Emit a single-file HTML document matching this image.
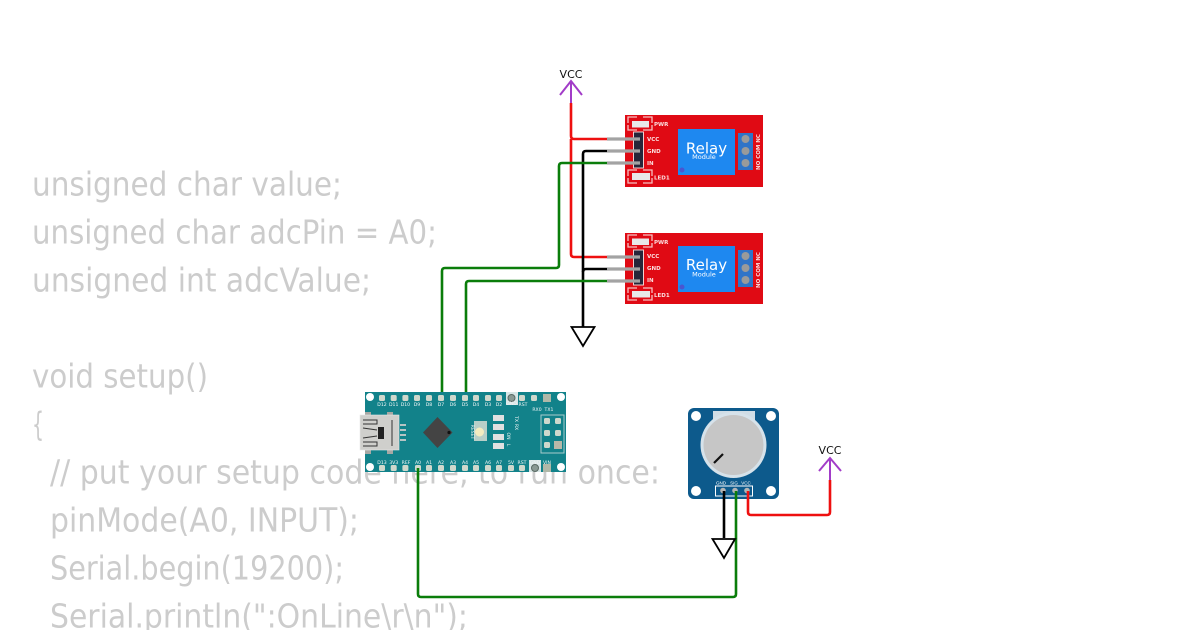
<!DOCTYPE html>
<html><head><meta charset="utf-8"><style>
html,body{margin:0;padding:0;background:#fff;width:1200px;height:630px;overflow:hidden}
svg{display:block}
.c{font-family:"DejaVu Sans","Liberation Sans",sans-serif;font-size:33px;fill:#cccccc}
.v{font-family:"DejaVu Sans","Liberation Sans",sans-serif;font-size:11px;fill:#111;text-anchor:middle}
.r{font-family:"DejaVu Sans","Liberation Sans",sans-serif;font-size:5.5px;font-weight:bold;fill:#fbdede}
.n{font-family:"DejaVu Sans","Liberation Sans",sans-serif;font-size:4.6px;fill:#f2f7f7;text-anchor:middle}
.w{fill:none;stroke-width:2.6;stroke-linejoin:round}
.b{fill:none;stroke:#f6c0c0;stroke-width:1.3}
</style></head><body>
<svg width="1200" height="630" viewBox="0 0 1200 630" xmlns="http://www.w3.org/2000/svg">
<defs>
<rect id="p" x="-3" y="-3" width="6" height="6" rx="1.500" fill="#cfd8cc"/>
</defs>

<!-- code text -->
<text class="c" x="32" y="195.500" textLength="310" lengthAdjust="spacingAndGlyphs">unsigned char value;</text>
<text class="c" x="32" y="243.500" textLength="405" lengthAdjust="spacingAndGlyphs">unsigned char adcPin = A0;</text>
<text class="c" x="32" y="291.500" textLength="339" lengthAdjust="spacingAndGlyphs">unsigned int adcValue;</text>
<text class="c" x="32" y="387.500" textLength="176" lengthAdjust="spacingAndGlyphs">void setup()</text>
<text class="c" x="32" y="435.500" textLength="12" lengthAdjust="spacingAndGlyphs">{</text>
<text class="c" x="50" y="483.500" textLength="610" lengthAdjust="spacingAndGlyphs">// put your setup code here, to run once:</text>
<text class="c" x="50" y="531.500" textLength="309" lengthAdjust="spacingAndGlyphs">pinMode(A0, INPUT);</text>
<text class="c" x="50" y="579.500" textLength="294" lengthAdjust="spacingAndGlyphs">Serial.begin(19200);</text>
<text class="c" x="50" y="627.500" textLength="418" lengthAdjust="spacingAndGlyphs">Serial.println(":OnLine\r\n");</text>

<!-- relay 1 -->
<g transform="translate(625 115)">
<rect x="0" y="0" width="138" height="72" fill="#e00a14"/>
<path class="b" d="M3 8V2H12M18 2H27V8M3 10V15H12M18 15H27V10"/>
<rect x="7" y="6" width="17" height="6.500" fill="#e8e8e8"/>
<text class="r" x="29" y="11">PWR</text>
<path class="b" d="M3 61V55H12M18 55H27V61M3 63V68H12M18 68H27V63"/>
<rect x="7" y="58" width="18" height="7" fill="#e8e8e8"/>
<text class="r" x="29" y="64.500">LED1</text>
<rect x="8.500" y="17" width="10" height="36" fill="#26263a" stroke="#f2d0d0" stroke-width="1"/>
<text class="r" x="22" y="26">VCC</text>
<text class="r" x="22" y="38">GND</text>
<text class="r" x="22" y="50">IN</text>
<rect x="53" y="14" width="57" height="46" fill="#1e88f0"/>
<circle cx="57" cy="55" r="2.500" fill="#4a55d0"/>
<text x="81.500" y="38.500" text-anchor="middle" font-family="'DejaVu Sans','Liberation Sans',sans-serif" font-size="15" fill="#fff">Relay</text>
<text x="79" y="44" text-anchor="middle" font-family="'DejaVu Sans','Liberation Sans',sans-serif" font-size="6.500" fill="#fff">Module</text>
<rect x="113" y="18" width="15" height="37" fill="#2f74c8"/>
<circle cx="120.500" cy="24" r="4" fill="#9a9a9a"/>
<circle cx="120.500" cy="36" r="4" fill="#9a9a9a"/>
<circle cx="120.500" cy="48" r="4" fill="#9a9a9a"/>
<text class="r" transform="translate(135 55) rotate(-90)">NO COM NC</text>
</g>

<!-- relay 2 -->
<g transform="translate(625 233)">
<rect x="0" y="0" width="138" height="71" fill="#e00a14"/>
<path class="b" d="M3 8V2H12M18 2H27V8M3 10V14H12M18 14H27V10"/>
<rect x="7" y="5.500" width="17" height="6.500" fill="#e8e8e8"/>
<text class="r" x="29" y="11">PWR</text>
<path class="b" d="M3 60V55H12M18 55H27V60M3 62V67H12M18 67H27V62"/>
<rect x="7" y="58" width="18" height="6.500" fill="#e8e8e8"/>
<text class="r" x="29" y="64">LED1</text>
<rect x="8.500" y="17" width="10" height="35" fill="#26263a" stroke="#f2d0d0" stroke-width="1"/>
<text class="r" x="22" y="25">VCC</text>
<text class="r" x="22" y="37">GND</text>
<text class="r" x="22" y="49">IN</text>
<rect x="53" y="13" width="57" height="46" fill="#1e88f0"/>
<circle cx="57" cy="54" r="2.500" fill="#4a55d0"/>
<text x="81.500" y="37" text-anchor="middle" font-family="'DejaVu Sans','Liberation Sans',sans-serif" font-size="15" fill="#fff">Relay</text>
<text x="79" y="43.500" text-anchor="middle" font-family="'DejaVu Sans','Liberation Sans',sans-serif" font-size="6.500" fill="#fff">Module</text>
<rect x="113" y="17" width="15" height="37" fill="#2f74c8"/>
<circle cx="120.500" cy="23" r="4" fill="#9a9a9a"/>
<circle cx="120.500" cy="35" r="4" fill="#9a9a9a"/>
<circle cx="120.500" cy="47" r="4" fill="#9a9a9a"/>
<text class="r" transform="translate(135 55) rotate(-90)">NO COM NC</text>
</g>

<!-- nano -->
<rect x="365" y="392" width="201" height="80" fill="#12828a"/>
<g fill="#fff"><circle cx="370" cy="397" r="4"/><circle cx="561" cy="397" r="4"/><circle cx="370" cy="467" r="4"/><circle cx="561" cy="467" r="4"/></g>
<use href="#p" x="382" y="398"/><use href="#p" x="393.700" y="398"/><use href="#p" x="405.400" y="398"/><use href="#p" x="417" y="398"/><use href="#p" x="429" y="398"/><use href="#p" x="441" y="398"/><use href="#p" x="453" y="398"/><use href="#p" x="465" y="398"/><use href="#p" x="476" y="398"/><use href="#p" x="488" y="398"/><use href="#p" x="499" y="398"/><use href="#p" x="522" y="398"/><use href="#p" x="534" y="398"/>
<use href="#p" x="382" y="468"/><use href="#p" x="393.700" y="468"/><use href="#p" x="405.400" y="468"/><use href="#p" x="418" y="468"/><use href="#p" x="429" y="468"/><use href="#p" x="441" y="468"/><use href="#p" x="453" y="468"/><use href="#p" x="465" y="468"/><use href="#p" x="476" y="468"/><use href="#p" x="488" y="468"/><use href="#p" x="499" y="468"/><use href="#p" x="511" y="468"/><use href="#p" x="522" y="468"/>
<rect x="506" y="392" width="12" height="13" fill="#d8e6e6"/><circle cx="511.500" cy="398" r="3.500" fill="#8a9a94" stroke="#5a6a64"/>
<rect x="529" y="460" width="12" height="12" fill="#d8e6e6"/><circle cx="535" cy="468" r="3.500" fill="#8a9a94" stroke="#5a6a64"/>
<rect x="543" y="394" width="8" height="8" fill="#b0b8a8"/><rect x="543" y="464" width="8" height="8" fill="#b0b8a8"/>
<text class="n" x="382" y="406">D12</text><text class="n" x="393.700" y="406">D11</text><text class="n" x="405.400" y="406">D10</text><text class="n" x="417" y="406">D9</text><text class="n" x="429" y="406">D8</text><text class="n" x="441" y="406">D7</text><text class="n" x="453" y="406">D6</text><text class="n" x="465" y="406">D5</text><text class="n" x="476" y="406">D4</text><text class="n" x="488" y="406">D3</text><text class="n" x="499" y="406">D2</text><text class="n" x="511.500" y="405" fill="#333">GND</text><text class="n" x="523" y="406">RST</text><text class="n" x="537" y="411">RX0</text><text class="n" x="549" y="411">TX1</text>
<text class="n" x="382" y="464">D13</text><text class="n" x="393.700" y="464">3V3</text><text class="n" x="406" y="464">REF</text><text class="n" x="418" y="464">A0</text><text class="n" x="429" y="464">A1</text><text class="n" x="441" y="464">A2</text><text class="n" x="453" y="464">A3</text><text class="n" x="465" y="464">A4</text><text class="n" x="476" y="464">A5</text><text class="n" x="488" y="464">A6</text><text class="n" x="499" y="464">A7</text><text class="n" x="511" y="464">5V</text><text class="n" x="522" y="464">RST</text><text class="n" x="535" y="464">GND</text><text class="n" x="547" y="464">VIN</text>
<!-- USB -->
<rect x="365" y="412" width="6" height="4" fill="#a8a8a4"/><rect x="387" y="412" width="6" height="4" fill="#a8a8a4"/>
<rect x="365" y="450" width="6" height="4" fill="#a8a8a4"/><rect x="387" y="450" width="6" height="4" fill="#a8a8a4"/>
<rect x="360" y="415" width="39" height="35" fill="#cfcfcc" stroke="#e8e8e8" stroke-width=".6"/>
<path d="M363 420h14v4h-12M363 424h14M363 428l14 2M363 446h14v-4h-12M363 442h14M363 438l14-2M392 420v26" fill="none" stroke="#333" stroke-width="1"/>
<rect x="378" y="427" width="6" height="12" fill="#222"/>
<rect x="400" y="424" width="6" height="2" fill="#b6c4c4"/><rect x="400" y="429" width="6" height="2" fill="#b6c4c4"/><rect x="400" y="434" width="6" height="2" fill="#b6c4c4"/><rect x="400" y="439" width="6" height="2" fill="#b6c4c4"/>
<!-- chip -->
<polygon points="437.500,417 452.500,432.500 437.500,448 423,432.500" fill="#444"/>
<circle cx="449" cy="432.500" r="1.600" fill="#111"/>
<!-- reset -->
<rect x="474" y="421" width="13" height="20" fill="#b8cfc8"/>
<circle cx="479.500" cy="432" r="4.500" fill="#f4ecc0"/>
<text class="n" transform="translate(471 432) rotate(90)">RESET</text>
<!-- leds -->
<g fill="#e0e0e0"><rect x="493" y="415" width="11" height="6"/><rect x="493" y="424" width="11" height="6"/><rect x="493" y="434" width="11" height="6"/><rect x="493" y="443" width="11" height="6"/></g>
<text class="n" transform="translate(515 419) rotate(90)">TX</text><text class="n" transform="translate(515 427) rotate(90)">RX</text><text class="n" transform="translate(507 436) rotate(90)">ON</text><text class="n" transform="translate(507 445) rotate(90)">L</text>
<!-- icsp -->
<rect x="541" y="415" width="23" height="38" fill="none" stroke="#a8cccc"/>
<use href="#p" x="547" y="421"/><use href="#p" x="558" y="421"/><use href="#p" x="547" y="433"/><use href="#p" x="558" y="433"/><use href="#p" x="547" y="445"/><rect x="554" y="441" width="8" height="8" fill="#b8b8a8"/>

<!-- potentiometer -->
<rect x="688" y="408" width="91" height="91" rx="6" fill="#0d5a8c"/>
<g fill="#fff"><circle cx="696" cy="416" r="5"/><circle cx="771" cy="416" r="5"/><circle cx="696" cy="491" r="5"/><circle cx="771" cy="491" r="5"/></g>
<rect x="713" y="411" width="42" height="12" fill="#d0dde6"/>
<circle cx="733.500" cy="445" r="33" fill="#d6e2ea"/>
<circle cx="733.500" cy="445" r="30" fill="#c6c6c6"/>
<line x1="714" y1="463" x2="723" y2="454" stroke="#111" stroke-width="2.200"/>
<text x="721" y="484.500" text-anchor="middle" font-family="'Liberation Sans',sans-serif" font-size="4.500" fill="#fff">GND</text>
<text x="734" y="484.500" text-anchor="middle" font-family="'Liberation Sans',sans-serif" font-size="4.500" fill="#fff">SIG</text>
<text x="746" y="484.500" text-anchor="middle" font-family="'Liberation Sans',sans-serif" font-size="4.500" fill="#fff">VCC</text>
<rect x="715.500" y="486" width="37" height="10" fill="none" stroke="#fff"/>
<circle cx="723" cy="490.500" r="2.800" fill="#b5b5b5"/><circle cx="735" cy="490.500" r="2.800" fill="#b5b5b5"/><circle cx="747" cy="490.500" r="2.800" fill="#b5b5b5"/>

<!-- gray pins -->
<path stroke="#a3a3a3" stroke-width="3.200" d="M607 139H640M607 151H640M607 163H640M607 257H640M607 269H640M607 281H640"/>

<!-- wires -->
<path class="w" stroke="#ee1010" d="M571 103V136Q571 139 574 139H607"/>
<path class="w" stroke="#ee1010" d="M571 139V254Q571 257 574 257H607"/>
<path class="w" stroke="#000" d="M607 151H586Q583 151 583 154V327"/>
<path class="w" stroke="#000" d="M583 272Q583 269 586 269H607"/>
<path class="w" stroke="#0a7d0a" d="M442 392V271Q442 268 445 268H556Q559 268 559 265V166Q559 163 562 163H607"/>
<path class="w" stroke="#0a7d0a" d="M466 392V284Q466 281 469 281H607"/>
<path class="w" stroke="#0a7d0a" d="M418 468V594Q418 597 421 597H733Q736 597 736 594V491"/>
<path class="w" stroke="#000" d="M724 491V538"/>
<path class="w" stroke="#ee1010" d="M748 491V512Q748 515 751 515H827Q830 515 830 512V480"/>

<!-- power symbols -->
<path fill="none" stroke="#a23cc8" stroke-width="2" d="M571 103V81M560 95L571 81L582 95"/>
<text class="v" x="571" y="78">VCC</text>
<path fill="none" stroke="#a23cc8" stroke-width="2" d="M830 480V458M819 471L830 458L841 471"/>
<text class="v" x="830" y="454">VCC</text>
<polygon points="571.500,327 594.500,327 583,346" fill="#fff" stroke="#000" stroke-width="1.800"/>
<polygon points="712.500,539 735,539 724,558" fill="#fff" stroke="#000" stroke-width="1.800"/>
</svg>
</body></html>
